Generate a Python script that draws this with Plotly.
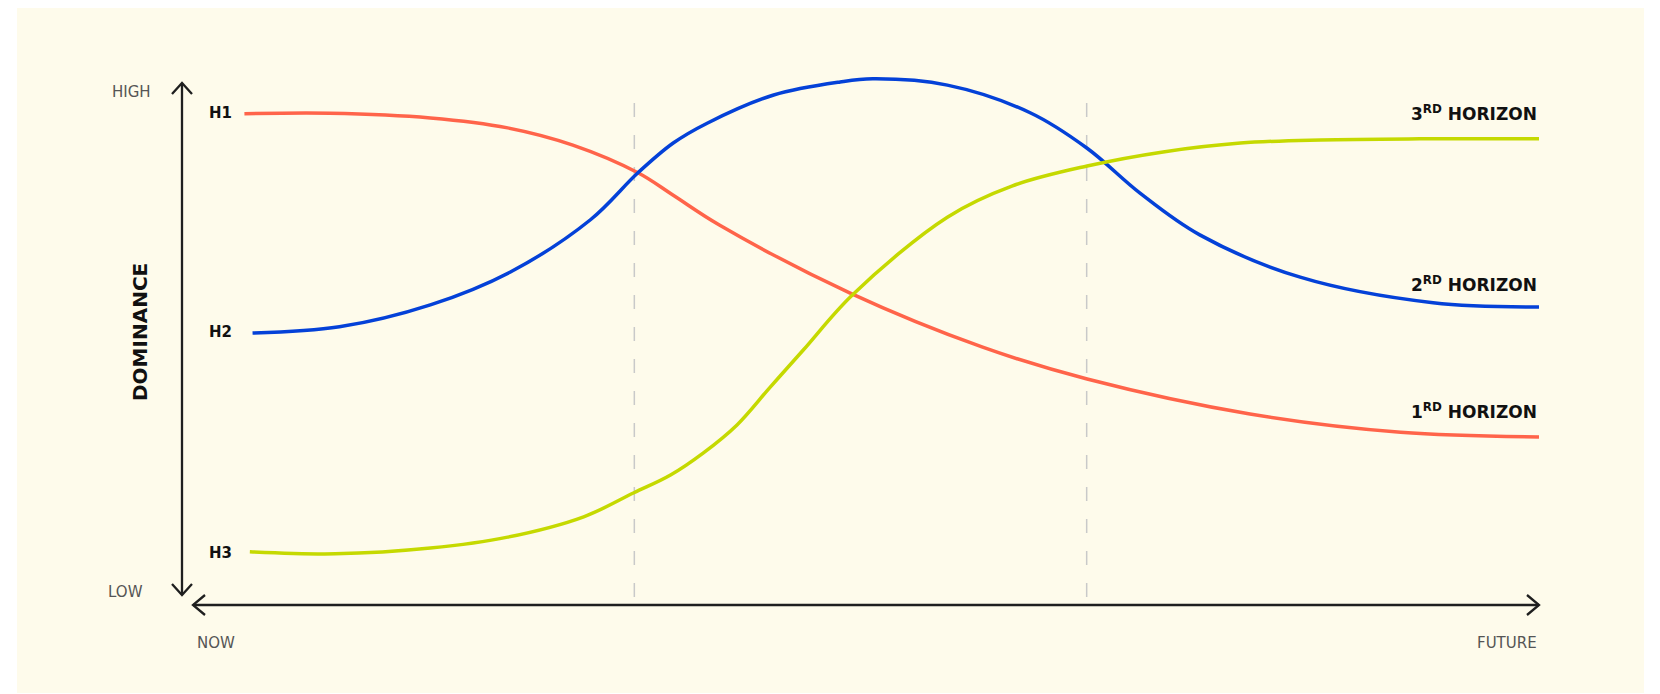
import plotly.graph_objects as go

# time runs 0 (now) -> 100 (future), dominance 0 (low) -> 100 (high)
h1_time = [4.6, 10.9, 18.3, 24.0, 28.8, 33.6, 36.2, 39.6, 49.2, 59.0, 66.7, 78.7, 89.8, 100]
h1_dom = [94.1, 94.2, 93.3, 91.4, 88.1, 82.8, 78.5, 72.8, 59.8, 49.4, 43.3, 36.6, 33.1, 32.2]

h2_time = [5.2, 11.6, 18.3, 24.2, 30.1, 33.6, 36.2, 38.7, 43.6, 48.5, 50.9, 56.4, 62.5, 66.7, 70.6, 75.0, 82.4, 92.2, 100]
h2_dom = [52.1, 53.3, 57.5, 63.8, 73.8, 82.8, 88.5, 92.3, 97.7, 100.2, 100.8, 99.6, 94.3, 87.5, 78.9, 70.9, 62.8, 57.9, 57.1]

h3_time = [5.0, 11.3, 18.3, 24.0, 29.6, 33.3, 36.0, 38.4, 40.9, 43.3, 45.8, 49.4, 56.4, 61.2, 66.7, 72.3, 78.0, 83.9, 91.2, 100]
h3_dom = [10.2, 9.8, 10.9, 13.0, 16.9, 21.5, 24.9, 29.1, 34.5, 41.6, 48.9, 59.4, 74.3, 80.3, 84.1, 86.8, 88.5, 89.1, 89.3, 89.3]

phase_bounds = [100 / 3, 200 / 3]
start_labels = ["H1", "H2", "H3"]
end_labels = ["1<sup>RD</sup> HORIZON", "2<sup>RD</sup> HORIZON", "3<sup>RD</sup> HORIZON"]

W, H = 1660, 694
OFF = 8  # page margin around the plot div
AX_LEFT, AX_RIGHT, AX_BOTTOM, AX_TOP = 182 - OFF, 1539 - OFF, 605 - OFF, 83 - OFF
INK = '#1f1f1f'
FONT = 'DejaVu Sans'


def px(x):
    return (x - OFF) / W


def py(y):
    return 1 - (y - OFF) / H


fig = go.Figure()
series = [(h1_time, h1_dom, '#ff644a'), (h2_time, h2_dom, '#0441d8'), (h3_time, h3_dom, '#c5d900')]
for t, d, c in series:
    fig.add_trace(go.Scatter(x=t, y=d, mode='lines', hoverinfo='skip', showlegend=False,
                             line=dict(color=c, width=3.5, shape='spline', smoothing=1.0)))

shapes = [dict(type='rect', xref='paper', yref='paper', x0=px(17), x1=px(1644), y0=py(693), y1=py(7),
               fillcolor='#fefbeb', line_width=0, layer='below')]
for b in phase_bounds:
    shapes.append(dict(type='line', xref='x', yref='paper', x0=b, x1=b, y0=py(597), y1=py(87),
                       line=dict(color='#c9c9c9', width=1.5, dash='14px,18px'), layer='below'))


def poly(points):
    return 'M ' + ' L '.join(f'{px(a)},{py(b)}' for a, b in points)


arrows = [
    [(182, 83), (182, 595)],
    [(172, 94), (182, 83), (192, 94)],
    [(172, 584), (182, 595), (192, 584)],
    [(193, 605), (1539, 605)],
    [(205, 595), (193, 605), (205, 615)],
    [(1527, 595), (1539, 605), (1527, 615)],
]
for a in arrows:
    shapes.append(dict(type='path', xref='paper', yref='paper', path=poly(a),
                       line=dict(color=INK, width=2.3)))

annotations = []


def label(text, x, y, anchor, size, bold=True, color='#111111', angle=0):
    annotations.append(dict(text=text, xref='paper', yref='paper', x=px(x), y=py(y),
                            xanchor=anchor, yanchor='middle', showarrow=False, textangle=angle,
                            font=dict(family=FONT, size=size, color=color,
                                      weight='bold' if bold else 'normal')))


label('HIGH', 153, 92, 'right', 15, bold=False, color='#555555')
label('LOW', 145, 592, 'right', 15, bold=False, color='#555555')
label('NOW', 195, 643, 'left', 15, bold=False, color='#555555')
label('FUTURE', 1539, 643, 'right', 15, bold=False, color='#555555')
label('DOMINANCE', 140, 332, 'center', 20, angle=-90)
for txt, y in zip(start_labels, [113, 332, 553]):
    label(txt, 207, y, 'left', 15)
for txt, y in zip(end_labels, [411, 284, 113]):
    label(txt, 1539, y, 'right', 17)

sx = (AX_RIGHT - AX_LEFT) / 100
sy = (AX_BOTTOM - AX_TOP) / 100
fig.update_layout(
    width=W, height=H, margin=dict(l=0, r=0, t=0, b=0),
    paper_bgcolor='white', plot_bgcolor='rgba(0,0,0,0)',
    xaxis=dict(visible=False, range=[-AX_LEFT / sx, (W - AX_LEFT) / sx]),
    yaxis=dict(visible=False, range=[-(H - AX_BOTTOM) / sy, AX_BOTTOM / sy]),
    shapes=shapes, annotations=annotations)

fig.write_html("out.html")
